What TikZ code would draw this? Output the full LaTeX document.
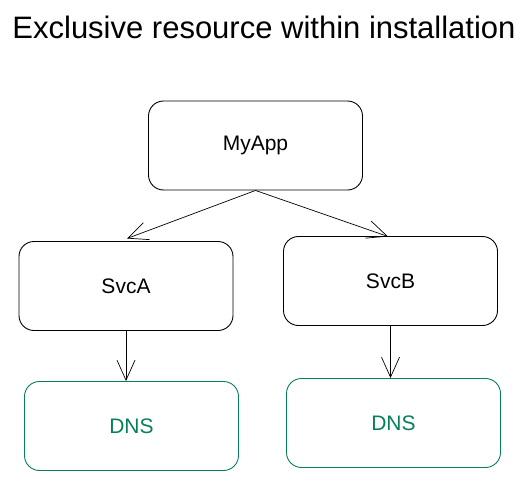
\documentclass[tikz,border=0pt]{standalone}
\usepackage{fontspec}
\setmainfont{Liberation Sans}
\usetikzlibrary{arrows.meta}
\definecolor{dnsgreen}{HTML}{087F5B}
\begin{document}
\begin{tikzpicture}[x=1pt,y=-1pt,
    box/.style={draw, line width=0.9pt, rounded corners=15pt, minimum width=214pt, minimum height=89pt, font=\fontsize{21}{24}\selectfont},
    dnsbox/.style={box, draw=dnsgreen, text=dnsgreen},
    link/.style={-{Straight Barb[length=20pt,width=18pt]}, line width=0.7pt}]
    \useasboundingbox (0,0) rectangle (528,482);
    % title
    \node (title) at (264,27) {\fontsize{31}{34}\selectfont Exclusive resource within installation};
    % application and its two services
    \node[box] (myapp) at (255.5,145.5) {MyApp};
    \node[box] (svca) at (126,286) {SvcA};
    \node[box] (svcb) at (390.5,281) {SvcB};
    % one DNS per service
    \node[dnsbox] (dnsa) at (131.5,426) {DNS};
    \node[dnsbox] (dnsb) at (393.5,423) {DNS};
    \draw[link] (myapp.south) -- (127,238.5);
    \draw[link] (myapp.south) -- (388,236.5);
    \draw[link] (svca.south) -- (svca.south |- dnsa.north);
    \draw[link] (svcb.south) -- (svcb.south |- dnsb.north);
\end{tikzpicture}
\end{document}
